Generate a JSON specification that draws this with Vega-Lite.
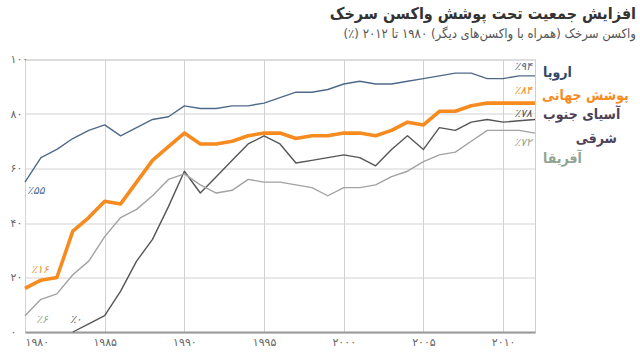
{
  "$schema": "https://vega.github.io/schema/vega-lite/v6.json",
  "width": 510,
  "height": 272.5,
  "autosize": {"type": "none"},
  "padding": {"left": 25, "top": 59.5, "right": 105, "bottom": 26},
  "background": "white",
  "config": {
    "font": "DejaVu Sans",
    "view": {"stroke": "#cfcfcf", "strokeWidth": 1}
  },
  "title": {
    "text": "افزایش جمعیت تحت پوشش واکسن سرخک",
    "subtitle": "واکسن سرخک (همراه با واکسن‌های دیگر) ۱۹۸۰ تا ۲۰۱۲ (٪)‏",
    "anchor": "end",
    "frame": "group",
    "dx": 101,
    "offset": 13,
    "font": "DejaVu Sans Condensed",
    "fontSize": 16,
    "fontWeight": "bold",
    "color": "#333333",
    "subtitleFont": "DejaVu Sans Condensed",
    "subtitleFontSize": 13,
    "subtitleColor": "#555555",
    "subtitlePadding": 6
  },
  "datasets": {
    "coverage": [
      {"region": "Europe", "year": 1980, "value": 55}, {"region": "Europe", "year": 1981, "value": 64}, {"region": "Europe", "year": 1982, "value": 67}, {"region": "Europe", "year": 1983, "value": 71}, {"region": "Europe", "year": 1984, "value": 74}, {"region": "Europe", "year": 1985, "value": 76}, {"region": "Europe", "year": 1986, "value": 72}, {"region": "Europe", "year": 1987, "value": 75}, {"region": "Europe", "year": 1988, "value": 78}, {"region": "Europe", "year": 1989, "value": 79}, {"region": "Europe", "year": 1990, "value": 83}, {"region": "Europe", "year": 1991, "value": 82}, {"region": "Europe", "year": 1992, "value": 82}, {"region": "Europe", "year": 1993, "value": 83}, {"region": "Europe", "year": 1994, "value": 83}, {"region": "Europe", "year": 1995, "value": 84}, {"region": "Europe", "year": 1996, "value": 86}, {"region": "Europe", "year": 1997, "value": 88}, {"region": "Europe", "year": 1998, "value": 88}, {"region": "Europe", "year": 1999, "value": 89}, {"region": "Europe", "year": 2000, "value": 91}, {"region": "Europe", "year": 2001, "value": 92}, {"region": "Europe", "year": 2002, "value": 91}, {"region": "Europe", "year": 2003, "value": 91}, {"region": "Europe", "year": 2004, "value": 92}, {"region": "Europe", "year": 2005, "value": 93}, {"region": "Europe", "year": 2006, "value": 94}, {"region": "Europe", "year": 2007, "value": 95}, {"region": "Europe", "year": 2008, "value": 95}, {"region": "Europe", "year": 2009, "value": 93}, {"region": "Europe", "year": 2010, "value": 93}, {"region": "Europe", "year": 2011, "value": 94}, {"region": "Europe", "year": 2012, "value": 94},
      {"region": "SEAsia", "year": 1983, "value": 0}, {"region": "SEAsia", "year": 1984, "value": 3}, {"region": "SEAsia", "year": 1985, "value": 6}, {"region": "SEAsia", "year": 1986, "value": 15}, {"region": "SEAsia", "year": 1987, "value": 26}, {"region": "SEAsia", "year": 1988, "value": 34}, {"region": "SEAsia", "year": 1989, "value": 46}, {"region": "SEAsia", "year": 1990, "value": 59}, {"region": "SEAsia", "year": 1991, "value": 51}, {"region": "SEAsia", "year": 1992, "value": 57}, {"region": "SEAsia", "year": 1993, "value": 63}, {"region": "SEAsia", "year": 1994, "value": 69}, {"region": "SEAsia", "year": 1995, "value": 72}, {"region": "SEAsia", "year": 1996, "value": 69}, {"region": "SEAsia", "year": 1997, "value": 62}, {"region": "SEAsia", "year": 1998, "value": 63}, {"region": "SEAsia", "year": 1999, "value": 64}, {"region": "SEAsia", "year": 2000, "value": 65}, {"region": "SEAsia", "year": 2001, "value": 64}, {"region": "SEAsia", "year": 2002, "value": 61}, {"region": "SEAsia", "year": 2003, "value": 67}, {"region": "SEAsia", "year": 2004, "value": 72}, {"region": "SEAsia", "year": 2005, "value": 67}, {"region": "SEAsia", "year": 2006, "value": 75}, {"region": "SEAsia", "year": 2007, "value": 74}, {"region": "SEAsia", "year": 2008, "value": 77}, {"region": "SEAsia", "year": 2009, "value": 78}, {"region": "SEAsia", "year": 2010, "value": 77}, {"region": "SEAsia", "year": 2011, "value": 77.5}, {"region": "SEAsia", "year": 2012, "value": 78},
      {"region": "Africa", "year": 1980, "value": 6}, {"region": "Africa", "year": 1981, "value": 12}, {"region": "Africa", "year": 1982, "value": 14}, {"region": "Africa", "year": 1983, "value": 21}, {"region": "Africa", "year": 1984, "value": 26}, {"region": "Africa", "year": 1985, "value": 35}, {"region": "Africa", "year": 1986, "value": 42}, {"region": "Africa", "year": 1987, "value": 45}, {"region": "Africa", "year": 1988, "value": 50}, {"region": "Africa", "year": 1989, "value": 56}, {"region": "Africa", "year": 1990, "value": 58}, {"region": "Africa", "year": 1991, "value": 54}, {"region": "Africa", "year": 1992, "value": 51}, {"region": "Africa", "year": 1993, "value": 52}, {"region": "Africa", "year": 1994, "value": 56}, {"region": "Africa", "year": 1995, "value": 55}, {"region": "Africa", "year": 1996, "value": 55}, {"region": "Africa", "year": 1997, "value": 54}, {"region": "Africa", "year": 1998, "value": 53}, {"region": "Africa", "year": 1999, "value": 50}, {"region": "Africa", "year": 2000, "value": 53}, {"region": "Africa", "year": 2001, "value": 53}, {"region": "Africa", "year": 2002, "value": 54}, {"region": "Africa", "year": 2003, "value": 57}, {"region": "Africa", "year": 2004, "value": 59}, {"region": "Africa", "year": 2005, "value": 62.5}, {"region": "Africa", "year": 2006, "value": 65}, {"region": "Africa", "year": 2007, "value": 66}, {"region": "Africa", "year": 2008, "value": 70}, {"region": "Africa", "year": 2009, "value": 74}, {"region": "Africa", "year": 2010, "value": 74}, {"region": "Africa", "year": 2011, "value": 74}, {"region": "Africa", "year": 2012, "value": 73},
      {"region": "Global", "year": 1980, "value": 16}, {"region": "Global", "year": 1981, "value": 19}, {"region": "Global", "year": 1982, "value": 20}, {"region": "Global", "year": 1983, "value": 37}, {"region": "Global", "year": 1984, "value": 42}, {"region": "Global", "year": 1985, "value": 48}, {"region": "Global", "year": 1986, "value": 47}, {"region": "Global", "year": 1987, "value": 55}, {"region": "Global", "year": 1988, "value": 63}, {"region": "Global", "year": 1989, "value": 68}, {"region": "Global", "year": 1990, "value": 73}, {"region": "Global", "year": 1991, "value": 69}, {"region": "Global", "year": 1992, "value": 69}, {"region": "Global", "year": 1993, "value": 70}, {"region": "Global", "year": 1994, "value": 72}, {"region": "Global", "year": 1995, "value": 73}, {"region": "Global", "year": 1996, "value": 73}, {"region": "Global", "year": 1997, "value": 71}, {"region": "Global", "year": 1998, "value": 72}, {"region": "Global", "year": 1999, "value": 72}, {"region": "Global", "year": 2000, "value": 73}, {"region": "Global", "year": 2001, "value": 73}, {"region": "Global", "year": 2002, "value": 72}, {"region": "Global", "year": 2003, "value": 74}, {"region": "Global", "year": 2004, "value": 77}, {"region": "Global", "year": 2005, "value": 76}, {"region": "Global", "year": 2006, "value": 81}, {"region": "Global", "year": 2007, "value": 81}, {"region": "Global", "year": 2008, "value": 83}, {"region": "Global", "year": 2009, "value": 84}, {"region": "Global", "year": 2010, "value": 84}, {"region": "Global", "year": 2011, "value": 84}, {"region": "Global", "year": 2012, "value": 84}
    ]
  },
  "layer": [
    {
      "data": {"name": "coverage"},
      "mark": {"type": "line", "strokeJoin": "round", "strokeCap": "butt"},
      "encoding": {
        "x": {
          "field": "year", "type": "quantitative",
          "scale": {"domain": [1980, 2012], "nice": false, "zero": false},
          "axis": {
            "title": null, "values": [1980, 1985, 1990, 1995, 2000, 2005, 2010],
            "grid": true, "gridColor": "#d2d2d2", "gridWidth": 1,
            "domain": true, "domainColor": "#9a9a9a", "domainWidth": 2,
            "ticks": false, "tickSize": 0, "labelPadding": 4,
            "labelFont": "DejaVu Sans", "labelFontSize": 11, "labelColor": "#666666",
            "labelExpr": "{'1980':'۱۹۸۰','1985':'۱۹۸۵','1990':'۱۹۹۰','1995':'۱۹۹۵','2000':'۲۰۰۰','2005':'۲۰۰۵','2010':'۲۰۱۰'}[datum.value]"
          }
        },
        "y": {
          "field": "value", "type": "quantitative",
          "scale": {"domain": [0, 100], "nice": false},
          "axis": {
            "title": null, "values": [0, 20, 40, 60, 80, 100],
            "grid": true, "gridColor": "#d2d2d2", "gridWidth": 1,
            "domain": false, "ticks": false, "tickSize": 0,
            "labelAlign": "left", "labelPadding": 15, "labelBaseline": "middle",
            "labelFont": "DejaVu Sans", "labelFontSize": 11, "labelColor": "#666666",
            "labelExpr": "{'0':'۰','20':'۲۰','40':'۴۰','60':'۶۰','80':'۸۰','100':'۱۰۰'}[datum.value]"
          }
        },
        "color": {
          "field": "region", "type": "nominal",
          "scale": {"domain": ["Africa", "SEAsia", "Europe", "Global"], "range": ["#a2a2a2", "#555555", "#4f6a89", "#f68b1f"]},
          "legend": null
        },
        "strokeWidth": {
          "condition": {"test": "datum.region === 'Global'", "value": 3.6},
          "value": 1.4
        },
        "order": {"field": "year", "type": "quantitative"}
      }
    },
    {
      "data": {"values": [{"year": 2012, "value": 94, "label": "٪۹۴"}]},
      "mark": {"type": "text", "align": "right", "baseline": "middle", "dx": -3, "dy": -9, "fontSize": 11, "fontStyle": "italic", "color": "#4f6a89", "font": "DejaVu Sans"},
      "encoding": {"x": {"field": "year", "type": "quantitative"}, "y": {"field": "value", "type": "quantitative"}, "text": {"field": "label"}}
    },
    {
      "data": {"values": [{"year": 2012, "value": 84, "label": "٪۸۴"}]},
      "mark": {"type": "text", "align": "right", "baseline": "middle", "dx": -3, "dy": -12, "fontSize": 11, "fontStyle": "italic", "color": "#f68b1f", "font": "DejaVu Sans"},
      "encoding": {"x": {"field": "year", "type": "quantitative"}, "y": {"field": "value", "type": "quantitative"}, "text": {"field": "label"}}
    },
    {
      "data": {"values": [{"year": 2012, "value": 78, "label": "٪۷۸"}]},
      "mark": {"type": "text", "align": "right", "baseline": "middle", "dx": -3, "dy": -5, "fontSize": 11, "fontStyle": "italic", "color": "#555555", "font": "DejaVu Sans"},
      "encoding": {"x": {"field": "year", "type": "quantitative"}, "y": {"field": "value", "type": "quantitative"}, "text": {"field": "label"}}
    },
    {
      "data": {"values": [{"year": 2012, "value": 73, "label": "٪۷۲"}]},
      "mark": {"type": "text", "align": "right", "baseline": "middle", "dx": -3, "dy": 10, "fontSize": 11, "fontStyle": "italic", "color": "#8fa48f", "font": "DejaVu Sans"},
      "encoding": {"x": {"field": "year", "type": "quantitative"}, "y": {"field": "value", "type": "quantitative"}, "text": {"field": "label"}}
    },
    {
      "data": {"values": [{"year": 1980, "value": 55, "label": "٪۵۵"}]},
      "mark": {"type": "text", "align": "left", "baseline": "middle", "dx": 2, "dy": 9, "fontSize": 11, "fontStyle": "italic", "color": "#4f6a89", "font": "DejaVu Sans"},
      "encoding": {"x": {"field": "year", "type": "quantitative"}, "y": {"field": "value", "type": "quantitative"}, "text": {"field": "label"}}
    },
    {
      "data": {"values": [{"year": 1980, "value": 16, "label": "٪۱۶"}]},
      "mark": {"type": "text", "align": "left", "baseline": "middle", "dx": 6, "dy": -18, "fontSize": 11, "fontStyle": "italic", "color": "#f68b1f", "font": "DejaVu Sans"},
      "encoding": {"x": {"field": "year", "type": "quantitative"}, "y": {"field": "value", "type": "quantitative"}, "text": {"field": "label"}}
    },
    {
      "data": {"values": [{"year": 1980, "value": 6, "label": "٪۶"}]},
      "mark": {"type": "text", "align": "left", "baseline": "middle", "dx": 11, "dy": 4, "fontSize": 11, "fontStyle": "italic", "color": "#8fa48f", "font": "DejaVu Sans"},
      "encoding": {"x": {"field": "year", "type": "quantitative"}, "y": {"field": "value", "type": "quantitative"}, "text": {"field": "label"}}
    },
    {
      "data": {"values": [{"year": 1983, "value": 0, "label": "٪۰"}]},
      "mark": {"type": "text", "align": "center", "baseline": "middle", "dx": 3, "dy": -12, "fontSize": 11, "fontStyle": "italic", "color": "#555555", "font": "DejaVu Sans"},
      "encoding": {"x": {"field": "year", "type": "quantitative"}, "y": {"field": "value", "type": "quantitative"}, "text": {"field": "label"}}
    },
    {
      "data": {"values": [{"year": 2012, "value": 94, "label": "اروپا"}]},
      "mark": {"type": "text", "align": "left", "baseline": "middle", "dx": 8, "dy": -3, "fontSize": 14, "fontWeight": "bold", "color": "#2f4868", "font": "DejaVu Sans Condensed"},
      "encoding": {"x": {"field": "year", "type": "quantitative"}, "y": {"field": "value", "type": "quantitative"}, "text": {"field": "label"}}
    },
    {
      "data": {"values": [{"year": 2012, "value": 84, "label": "پوشش جهانی"}]},
      "mark": {"type": "text", "align": "left", "baseline": "middle", "dx": 7, "dy": -7, "fontSize": 14, "fontWeight": "bold", "color": "#f68b1f", "font": "DejaVu Sans Condensed"},
      "encoding": {"x": {"field": "year", "type": "quantitative"}, "y": {"field": "value", "type": "quantitative"}, "text": {"field": "label"}}
    },
    {
      "data": {"values": [{"year": 2012, "value": 78, "label": "آسیای جنوب"}]},
      "mark": {"type": "text", "align": "left", "baseline": "middle", "dx": 8, "dy": -4, "fontSize": 14, "fontWeight": "bold", "color": "#4e4258", "font": "DejaVu Sans Condensed"},
      "encoding": {"x": {"field": "year", "type": "quantitative"}, "y": {"field": "value", "type": "quantitative"}, "text": {"field": "label"}}
    },
    {
      "data": {"values": [{"year": 2012, "value": 78, "label": "شرقی"}]},
      "mark": {"type": "text", "align": "right", "baseline": "middle", "dx": 82, "dy": 20, "fontSize": 14, "fontWeight": "bold", "color": "#4e4258", "font": "DejaVu Sans Condensed"},
      "encoding": {"x": {"field": "year", "type": "quantitative"}, "y": {"field": "value", "type": "quantitative"}, "text": {"field": "label"}}
    },
    {
      "data": {"values": [{"year": 2012, "value": 73, "label": "آفریقا"}]},
      "mark": {"type": "text", "align": "left", "baseline": "middle", "dx": 8, "dy": 26, "fontSize": 14, "fontWeight": "bold", "color": "#8fa48f", "font": "DejaVu Sans Condensed"},
      "encoding": {"x": {"field": "year", "type": "quantitative"}, "y": {"field": "value", "type": "quantitative"}, "text": {"field": "label"}}
    }
  ]
}
